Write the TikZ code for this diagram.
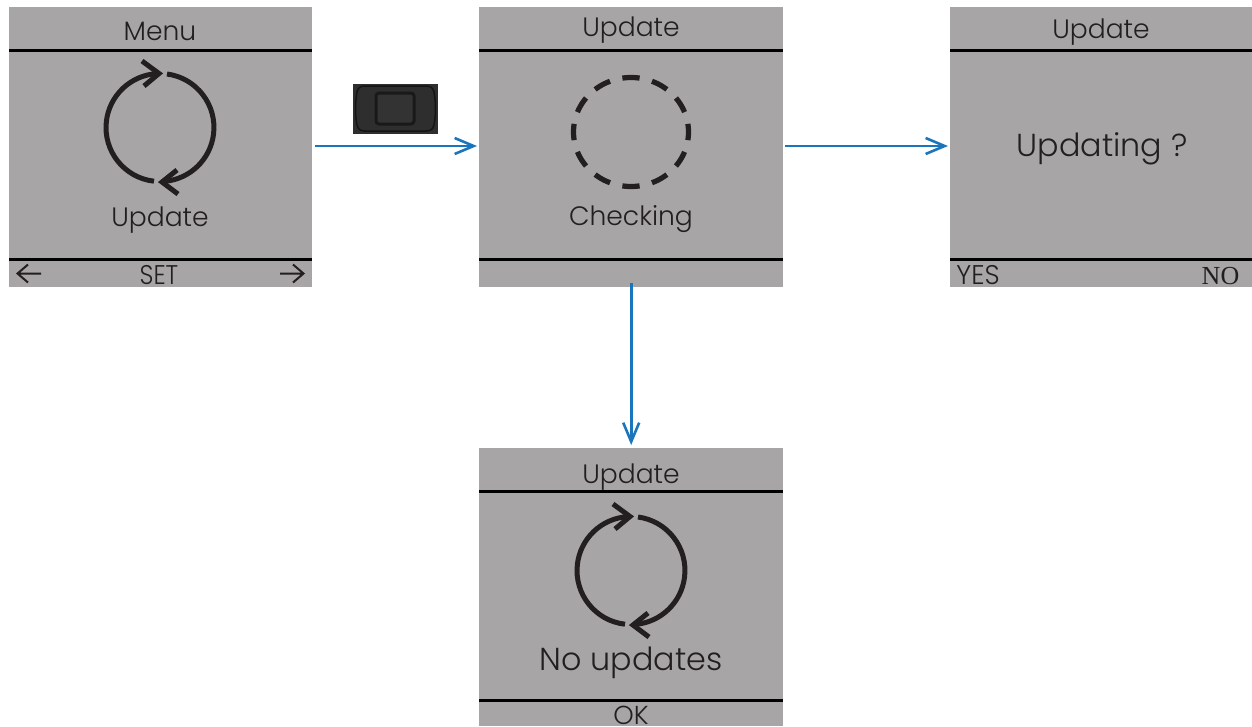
\documentclass[tikz,border=0pt]{standalone}
\usepackage{fontspec}
\setmainfont{Poppins}[UprightFont=* Light]
\newfontfamily\serifalt{Liberation Serif}
\usetikzlibrary{arrows.meta}
\definecolor{screen}{HTML}{A7A5A6}
\definecolor{ink}{HTML}{231F20}
\definecolor{flow}{HTML}{1B75BC}
\tikzset{
  x=1pt,y=-1pt,
  scr/.style={fill=screen,draw=none,anchor=north west,inner sep=0pt,minimum width=#1,minimum height=280pt},
  rule/.style={black,line width=3pt},
  icon/.style={ink,line width=5pt},
  flowarrow/.style={flow,line width=2.6pt,-{Straight Barb[length=19pt,width=16pt,line width=2.6pt]},shorten >=2pt},
  title/.style={ink,anchor=base,font=\fontsize{26.6}{26.6}\selectfont,inner sep=0pt},
  big/.style={ink,anchor=base,font=\fontsize{31.8}{31.8}\selectfont,inner sep=0pt},
  soft/.style={ink,anchor=base,inner sep=0pt,font=\fontsize{27}{27}\selectfont},
}
\newcommand{\syncicon}[2]{%
  \begin{scope}[shift={(#1,#2)}]
    \draw[icon] (7,-53.5) arc[start angle=-82.5,end angle=85,radius=54];
    \draw[icon] (-6,53.7) arc[start angle=96.4,end angle=266,radius=54];
    \draw[icon,line join=miter] (-18,-66.5) -- (-1,-54) -- (-16,-41.5);
    \draw[icon,line join=miter] (17,42.5) -- (2,54.5) -- (18,66.5);
  \end{scope}}
\begin{document}
\begin{tikzpicture}
\useasboundingbox (0,0) rectangle (1252,726);
\node[scr=303pt] (s1) at (9,7) {};
\node[scr=304pt] (s2) at (479,7) {};
\node[scr=302pt] (s3) at (950,7) {};
\node[scr=304pt,minimum height=278pt] (s4) at (479,448) {};
\foreach \a/\b/\y in {9/312/50,9/312/259,479/783/50,479/783/259,950/1252/50,950/1252/259,479/783/491,479/783/700}
  \draw[rule] (\a,\y) -- (\b,\y);
\syncicon{160}{127.5}
\syncicon{631}{570.5}
\foreach \k in {0,30,...,330}
  \draw[ink,line width=5.2pt] plot[domain=\k-8.6:\k+8.6,samples=7,smooth] ({631+57.5*cos(\x)},{132+54.5*sin(\x)});
\node[title] (t1) at (160,40) {Menu};
\node[title] (u1) at (160,226) {Update};
\node[title] (t2) at (631,36) {Update};
\node[title] (c2) at (631,225) {Checking};
\node[title] (t3) at (1101,38) {Update};
\node[big] (q3) at (1102,156) {Updating ?};
\node[title] (t4) at (631,483) {Update};
\node[big] (n4) at (631,670) {No updates};
\node[soft,xscale=.9] (set) at (159,284) {SET};
\node[soft,xscale=.98] (yes) at (978,284) {YES};
\node[soft,font=\serifalt\fontsize{26}{26}\selectfont] (no) at (1220.5,284) {NO};
\node[soft,font=\fontsize{26}{26}\selectfont] (ok) at (631,724.5) {OK};
\draw[ink,line width=2pt,line join=miter] (28,264.5) -- (17.5,273.5) -- (28,282.5) (17.5,273.5) -- (41,273.5);
\draw[ink,line width=2pt,line join=miter] (293,264.5) -- (303.5,273.5) -- (293,282.5) (303.5,273.5) -- (280,273.5);
% button
\node[fill=black!82,draw=none,inner sep=0pt,minimum width=85pt,minimum height=50pt] (btn) at (395.5,109) {};
\draw[black!92,line width=1.5pt,fill=black!82] (365,86) -- (426,86) .. controls (431,86) and (433,88) .. (434,92) .. controls (436,102) and (436,116) .. (434,125) .. controls (433,129) and (431,131) .. (426,131) -- (365,131) .. controls (360,131) and (358,129) .. (357,125) .. controls (355,116) and (355,102) .. (357,92) .. controls (358,88) and (360,86) .. (365,86) -- cycle;
\draw[black!90,line width=3pt,rounded corners=3pt,fill=black!80] (376,93) rectangle (414,124);
\draw[flowarrow,shorten <=3pt] (s1.east |- 0,146) -- (s2.west |- 0,146);
\draw[flowarrow,shorten <=2pt] (s2.east |- 0,146) -- (s3.west |- 0,146);
\draw[flowarrow,shorten <=-4pt,shorten >=3pt] (s2.south) -- (s4.north);
\end{tikzpicture}
\end{document}
